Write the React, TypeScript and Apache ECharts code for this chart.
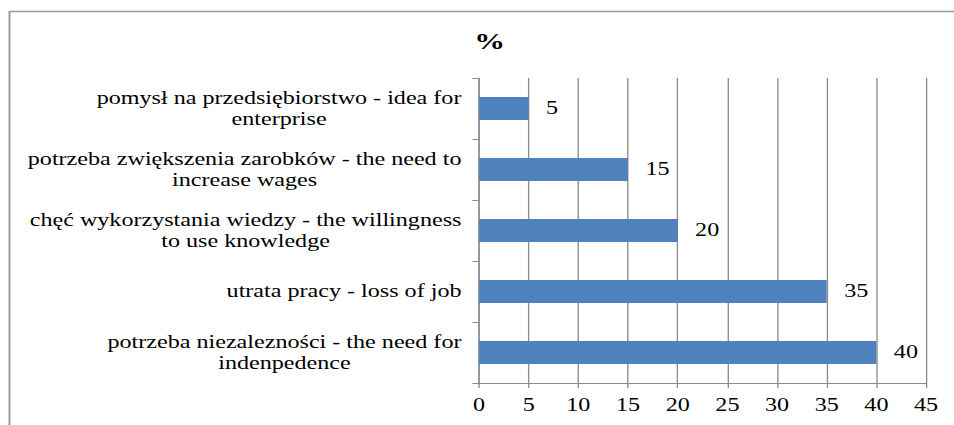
import React, { useEffect, useRef } from "react";
import * as echarts from "echarts";

// Categories listed bottom-to-top (ECharts category axis runs upward)
const categories: string[] = [
  "potrzeba niezalezności - the need for\nindenpedence",
  "utrata pracy - loss of job",
  "chęć wykorzystania wiedzy - the willingness\nto use knowledge",
  "potrzeba zwiększenia zarobków - the need to\nincrease wages",
  "pomysł na przedsiębiorstwo - idea for\nenterprise",
];
const values: number[] = [40, 35, 20, 15, 5];
const axisTitle = "%";
const xMin = 0;
const xMax = 45;
const xInterval = 5;

const S = 1.34; // horizontal stretch of the reference picture
const W = 954 / S;
const H = 425;
const FONT = "Liberation Serif";
const GRID = "#8c8c8c";

export default function App() {
  const ref = useRef<HTMLDivElement>(null);
  useEffect(() => {
    if (!ref.current) return;
    const chart = echarts.init(ref.current, undefined, { renderer: "svg" });
    const plotLeft = 479 / S;
    const plotRight = 926 / S;
    chart.setOption({
      animation: false,
      backgroundColor: "#fff",
      textStyle: { fontFamily: FONT },
      graphic: [
        {
          type: "rect",
          shape: { x: 9.5 / S, y: 11.5, width: W + 20, height: H + 20 },
          style: { fill: "none", stroke: "#9a9a9a", lineWidth: 1.5 },
          silent: true,
        },
        {
          type: "text",
          x: 489.7 / S,
          y: 41,
          style: {
            text: axisTitle,
            fontFamily: FONT,
            fontWeight: "bold",
            fontSize: 23,
            fill: "#000",
            align: "center",
            verticalAlign: "middle",
          },
        },
      ],
      grid: {
        left: plotLeft,
        right: W - plotRight,
        top: 78,
        bottom: H - 383,
        containLabel: false,
      },
      xAxis: {
        type: "value",
        min: xMin,
        max: xMax,
        interval: xInterval,
        axisLine: { show: true, lineStyle: { color: GRID, width: 1 } },
        axisTick: { show: true, length: 5, lineStyle: { color: GRID } },
        splitLine: { show: true, lineStyle: { color: GRID, width: 1 } },
        axisLabel: {
          color: "#000",
          fontFamily: FONT,
          fontSize: 18,
          margin: 13,
        },
      },
      yAxis: {
        type: "category",
        data: categories,
        axisLine: { show: true, lineStyle: { color: GRID, width: 1 } },
        axisTick: { show: true, length: 5, lineStyle: { color: GRID } },
        splitLine: { show: false },
        axisLabel: {
          color: "#000",
          fontFamily: FONT,
          fontSize: 18,
          lineHeight: 21,
          margin: 13,
          formatter: (v: string) =>
            v
              .split("\n")
              .map((l) => `{c|${l}}`)
              .join("\n"),
          rich: {
            c: {
              align: "center",
              fontFamily: FONT,
              fontSize: 18,
              lineHeight: 21,
              color: "#000",
            },
          },
        },
      },
      series: [
        {
          type: "bar",
          data: values,
          barWidth: 23,
          itemStyle: { color: "#4F81BD" },
          label: {
            show: true,
            position: "right",
            distance: 13,
            color: "#000",
            fontFamily: FONT,
            fontSize: 18,
          },
        },
      ],
    });
    return () => chart.dispose();
  }, []);
  return (
    <div
      ref={ref}
      style={{
        position: "absolute",
        left: 0,
        top: 0,
        width: W,
        height: H,
        transform: `scaleX(${S})`,
        transformOrigin: "0 0",
      }}
    />
  );
}
